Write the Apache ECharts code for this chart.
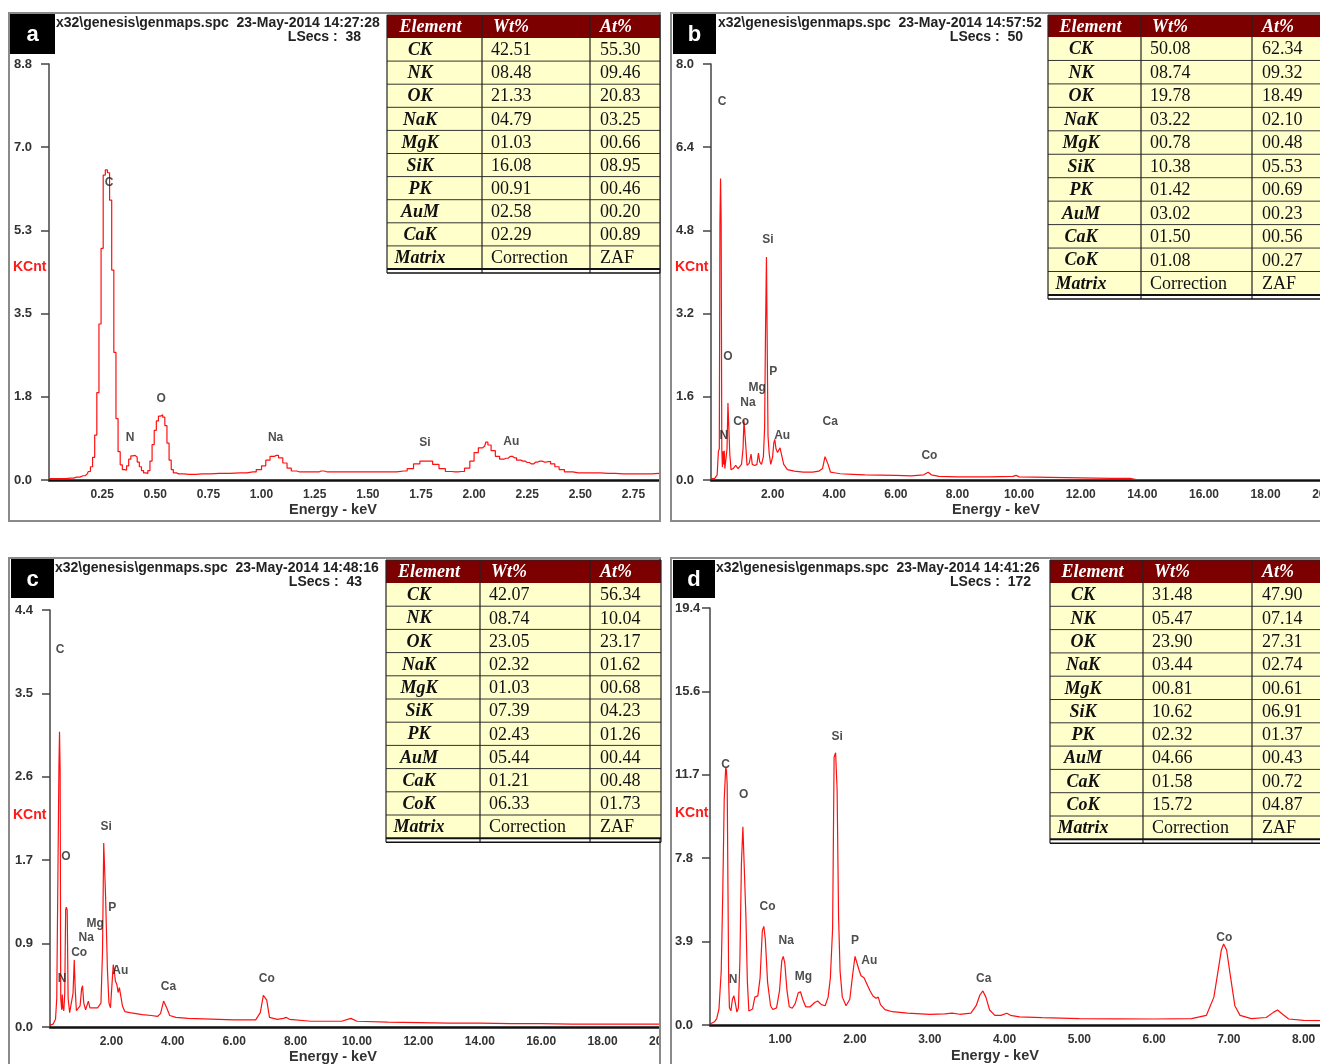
<!DOCTYPE html>
<html>
<head>
<meta charset="utf-8">
<script src="https://cdn.jsdelivr.net/npm/echarts@6/dist/echarts.min.js"></script>
<style>
  html, body { margin: 0; padding: 0; background: #fff; overflow: hidden; }
  #chart { width: 1400px; height: 1064px; }
</style>
</head>
<body>
<div id="chart"></div>
<script>
// ---------- EDS spectra: [energy keV, KCnt] ----------
const specA = [
  [0.00,0.03],[0.06,0.03],[0.10,0.04],[0.13,0.06],[0.16,0.09],[0.18,0.13],[0.19,0.18],[0.20,0.28],
  [0.21,0.48],[0.22,0.95],[0.23,1.85],[0.24,3.30],[0.25,4.90],[0.26,6.45],[0.27,6.56],[0.28,6.50],
  [0.29,5.92],[0.30,4.44],[0.31,2.70],[0.32,1.30],[0.33,0.60],[0.34,0.32],[0.35,0.22],[0.36,0.21],
  [0.37,0.30],[0.38,0.44],[0.39,0.51],[0.40,0.52],[0.41,0.48],[0.42,0.38],[0.43,0.28],[0.44,0.20],
  [0.45,0.15],[0.46,0.14],[0.47,0.20],[0.48,0.40],[0.49,0.75],[0.50,1.05],[0.51,1.25],[0.52,1.35],
  [0.53,1.38],[0.54,1.33],[0.55,1.15],[0.56,0.78],[0.57,0.42],[0.58,0.22],[0.59,0.15],[0.61,0.13],
  [0.66,0.12],[0.72,0.13],[0.80,0.14],[0.90,0.15],[0.96,0.17],[0.99,0.22],[1.01,0.30],[1.03,0.42],
  [1.05,0.50],[1.07,0.52],[1.09,0.47],[1.11,0.36],[1.13,0.25],[1.15,0.19],[1.18,0.17],[1.26,0.17],
  [1.28,0.19],[1.31,0.17],[1.40,0.17],[1.50,0.17],[1.60,0.17],[1.67,0.19],[1.70,0.24],[1.73,0.34],
  [1.76,0.40],[1.79,0.40],[1.82,0.33],[1.85,0.24],[1.88,0.18],[1.91,0.17],[1.94,0.18],[1.97,0.25],
  [1.99,0.40],[2.01,0.58],[2.03,0.68],[2.05,0.72],[2.06,0.80],[2.07,0.74],[2.09,0.62],[2.11,0.50],
  [2.13,0.44],[2.15,0.46],[2.17,0.50],[2.19,0.47],[2.21,0.42],[2.23,0.40],[2.25,0.37],[2.27,0.34],
  [2.29,0.38],[2.31,0.40],[2.33,0.38],[2.35,0.39],[2.37,0.34],[2.39,0.28],[2.41,0.22],[2.44,0.17],
  [2.49,0.15],[2.56,0.15],[2.63,0.14],[2.70,0.13],[2.80,0.13],[2.87,0.14]
];
const specB = [
  [0.00,0.02],[0.12,0.03],[0.20,0.10],[0.24,0.55],[0.27,0.60],[0.29,4.95],[0.31,5.80],[0.33,4.95],
  [0.35,0.60],[0.37,0.25],[0.39,0.55],[0.41,0.30],[0.43,0.56],[0.45,0.22],[0.48,0.20],[0.52,0.60],
  [0.55,1.48],[0.58,1.45],[0.61,0.50],[0.65,0.20],[0.72,0.22],[0.80,0.28],[0.88,0.22],[0.99,0.30],
  [1.04,0.60],[1.07,1.15],[1.10,1.12],[1.13,0.65],[1.17,0.28],[1.24,0.32],[1.30,0.50],[1.34,0.30],
  [1.42,0.28],[1.49,0.30],[1.54,0.52],[1.58,0.35],[1.64,0.30],[1.70,0.45],[1.74,1.00],[1.77,2.90],
  [1.80,4.29],[1.82,2.92],[1.85,0.85],[1.89,0.50],[1.94,0.30],[2.00,0.45],[2.04,0.72],[2.07,0.78],
  [2.11,0.60],[2.16,0.53],[2.20,0.52],[2.24,0.62],[2.30,0.60],[2.36,0.30],[2.48,0.20],[2.70,0.17],
  [3.00,0.15],[3.30,0.15],[3.50,0.17],[3.62,0.22],[3.70,0.45],[3.75,0.48],[3.80,0.30],[3.88,0.15],
  [4.00,0.14],[4.20,0.12],[4.60,0.11],[5.00,0.10],[6.00,0.09],[6.50,0.08],[6.90,0.10],[7.05,0.15],
  [7.15,0.10],[7.40,0.07],[8.00,0.06],[9.00,0.06],[9.80,0.07],[9.90,0.09],[10.00,0.06],[11.00,0.05],
  [12.00,0.04],[13.00,0.03],[13.60,0.03],[13.80,0.01],[20.48,0.01]
];
const specC = [
  [0.00,0.02],[0.10,0.03],[0.18,0.08],[0.22,0.30],[0.25,0.32],[0.27,0.30],[0.29,2.69],[0.31,3.08],
  [0.33,2.69],[0.35,0.30],[0.38,0.18],[0.40,0.34],[0.42,0.20],[0.45,0.17],[0.48,0.35],[0.51,1.22],
  [0.53,1.25],[0.56,1.22],[0.59,0.30],[0.64,0.15],[0.70,0.17],[0.75,0.35],[0.79,0.70],[0.82,0.40],
  [0.86,0.17],[0.92,0.15],[0.98,0.22],[1.03,0.40],[1.06,0.43],[1.10,0.25],[1.16,0.18],[1.25,0.27],
  [1.30,0.20],[1.38,0.20],[1.45,0.20],[1.50,0.22],[1.55,0.20],[1.66,0.25],[1.71,0.78],[1.75,1.92],
  [1.78,1.92],[1.81,1.37],[1.84,1.37],[1.87,0.60],[1.92,0.25],[1.97,0.20],[2.02,0.45],[2.06,0.65],
  [2.09,0.60],[2.13,0.48],[2.18,0.44],[2.22,0.36],[2.26,0.41],[2.31,0.40],[2.36,0.22],[2.44,0.16],
  [2.60,0.15],[3.00,0.13],[3.30,0.12],[3.50,0.11],[3.60,0.14],[3.70,0.27],[3.75,0.29],[3.80,0.20],
  [3.90,0.12],[4.10,0.10],[4.50,0.09],[5.00,0.085],[6.00,0.075],[6.70,0.075],[6.85,0.15],[6.95,0.33],
  [7.00,0.34],[7.06,0.28],[7.15,0.10],[7.40,0.08],[7.60,0.09],[7.70,0.10],[7.80,0.08],[8.50,0.06],
  [9.50,0.06],[9.80,0.09],[10.00,0.06],[11.00,0.05],[12.00,0.045],[13.00,0.04],[14.00,0.04],
  [15.00,0.035],[16.00,0.035],[17.00,0.03],[18.00,0.03],[19.00,0.03],[20.00,0.03]
];
const specD = [
  [0.06,0.05],[0.12,0.15],[0.15,0.30],[0.18,0.75],[0.21,2.50],[0.23,6.00],[0.25,10.50],[0.27,12.00],
  [0.28,11.90],[0.29,11.20],[0.30,6.50],[0.31,2.00],[0.32,0.80],[0.34,0.66],[0.36,1.20],[0.38,1.36],
  [0.40,1.00],[0.42,0.60],[0.44,0.80],[0.46,3.00],[0.48,7.50],[0.50,9.25],[0.52,9.20],[0.54,5.10],
  [0.56,2.00],[0.58,0.65],[0.60,0.58],[0.63,0.75],[0.66,1.30],[0.70,1.36],[0.73,2.20],[0.76,4.40],
  [0.78,4.60],[0.80,4.00],[0.83,2.00],[0.87,0.90],[0.90,0.72],[0.95,0.80],[0.99,1.60],[1.02,3.00],
  [1.04,3.20],[1.06,2.90],[1.09,1.60],[1.12,0.85],[1.16,0.78],[1.20,1.00],[1.24,1.50],[1.27,1.55],
  [1.30,1.20],[1.34,0.85],[1.40,0.85],[1.46,1.05],[1.50,1.12],[1.55,0.95],[1.60,0.90],[1.64,1.30],
  [1.67,2.20],[1.70,4.50],[1.72,12.50],[1.74,12.70],[1.76,11.00],[1.78,5.00],[1.80,2.50],[1.83,1.30],
  [1.88,0.90],[1.93,1.20],[1.97,2.40],[2.00,3.20],[2.02,3.26],[2.05,2.60],[2.08,2.30],[2.12,2.20],
  [2.16,1.90],[2.20,1.60],[2.24,1.35],[2.28,1.25],[2.31,1.30],[2.34,0.95],[2.40,0.72],[2.50,0.62],
  [2.70,0.55],[3.00,0.50],[3.20,0.52],[3.30,0.55],[3.40,0.50],[3.55,0.55],[3.62,0.90],[3.67,1.40],
  [3.71,1.59],[3.75,1.30],[3.80,0.70],[3.87,0.45],[3.95,0.45],[4.03,0.55],[4.08,0.45],[4.20,0.38],
  [4.50,0.34],[5.00,0.30],[5.50,0.29],[6.00,0.28],[6.50,0.30],[6.70,0.45],[6.80,1.30],[6.85,2.40],
  [6.90,3.50],[6.93,3.78],[6.97,3.50],[7.02,2.30],[7.08,0.90],[7.15,0.45],[7.30,0.30],[7.50,0.35],
  [7.60,0.60],[7.65,0.70],[7.72,0.50],[7.80,0.28],[8.00,0.22],[8.50,0.20]
];

// ---------- peak labels: [element, keV, KCnt] ----------
const peaksA = [['C',0.283,6.28],['N',0.382,0.89],['O',0.528,1.73],['Na',1.066,0.89],['Si',1.769,0.78],['Au',2.175,0.80]];
const peaksB = [['C',0.36,7.27],['O',0.55,2.37],['Si',1.85,4.62],['P',2.02,2.08],['Mg',1.50,1.77],['Na',1.20,1.48],
                ['Co',0.98,1.12],['N',0.42,0.85],['Au',2.31,0.85],['Ca',3.87,1.13],['Co',7.09,0.46]];
const peaksC = [['C',0.33,3.94],['O',0.52,1.78],['Si',1.83,2.09],['P',2.03,1.24],['Mg',1.47,1.08],['Na',1.18,0.93],
                ['Co',0.95,0.77],['N',0.39,0.50],['Au',2.29,0.59],['Ca',3.86,0.42],['Co',7.06,0.50]];
const peaksD = [['C',0.27,12.13],['O',0.51,10.73],['Si',1.76,13.43],['Co',0.83,5.50],['Na',1.08,3.92],['Mg',1.31,2.24],
                ['N',0.37,2.10],['P',2.00,3.92],['Au',2.19,2.99],['Ca',3.72,2.15],['Co',6.94,4.06]];

// ---------- tick labels ----------
const yLabelsA = ['0.0','1.8','3.5','5.3','7.0','8.8'];
const yLabelsB = ['0.0','1.6','3.2','4.8','6.4','8.0'];
const yLabelsC = ['0.0','0.9','1.7','2.6','3.5','4.4'];
const yLabelsD = ['0.0','3.9','7.8','11.7','15.6','19.4'];
const xTicksD = [1, 2, 3, 4, 5, 6, 7, 8];

// ---------- quantification tables ----------
const elementsA = ['CK','NK','OK','NaK','MgK','SiK','PK','AuM','CaK'];
const wtA = ['42.51','08.48','21.33','04.79','01.03','16.08','00.91','02.58','02.29'];
const atA = ['55.30','09.46','20.83','03.25','00.66','08.95','00.46','00.20','00.89'];
const elementsB = ['CK','NK','OK','NaK','MgK','SiK','PK','AuM','CaK','CoK'];
const wtB = ['50.08','08.74','19.78','03.22','00.78','10.38','01.42','03.02','01.50','01.08'];
const atB = ['62.34','09.32','18.49','02.10','00.48','05.53','00.69','00.23','00.56','00.27'];
const elementsC = ['CK','NK','OK','NaK','MgK','SiK','PK','AuM','CaK','CoK'];
const wtC = ['42.07','08.74','23.05','02.32','01.03','07.39','02.43','05.44','01.21','06.33'];
const atC = ['56.34','10.04','23.17','01.62','00.68','04.23','01.26','00.44','00.48','01.73'];
const elementsD = ['CK','NK','OK','NaK','MgK','SiK','PK','AuM','CaK','CoK'];
const wtD = ['31.48','05.47','23.90','03.44','00.81','10.62','02.32','04.66','01.58','15.72'];
const atD = ['47.90','07.14','27.31','02.74','00.61','06.91','01.37','00.43','00.72','04.87'];

// ---------- acquisition headers ----------
const headA = 'x32\\genesis\\genmaps.spc  23-May-2014 14:27:28', lsecsA = 'LSecs :  38';
const headB = 'x32\\genesis\\genmaps.spc  23-May-2014 14:57:52', lsecsB = 'LSecs :  50';
const headC = 'x32\\genesis\\genmaps.spc  23-May-2014 14:48:16', lsecsC = 'LSecs :  43';
const headD = 'x32\\genesis\\genmaps.spc  23-May-2014 14:41:26', lsecsD = 'LSecs :  172';

// ---------- layout ----------
const SANS = '"Liberation Sans", Arial, sans-serif';
const SERIF = '"Liberation Serif", "Times New Roman", serif';

const panels = [
  { tag:'a', spec:specA, peaks:peaksA, yMax:8.8, yLabels:yLabelsA, xMin:0, xMax:2.87, xStep:0.25, step:'middle',
    frame:[9,13,651,508], tagBox:[10,14,45,40], grid:[49,64,610,416], yLabelMargin:17, yLabelAlign:'right',
    head:headA, headPos:[56,23], lsecs:lsecsA, lsecsPos:[361,37], kcnt:[13,267], energy:[333,510],
    table:{x:387,y:15,cw:[95,108,70],hh:23,rh:23.1}, elements:elementsA, wt:wtA, at:atA },
  { tag:'b', spec:specB, peaks:peaksB, yMax:8.0, yLabels:yLabelsB, xMin:0, xMax:20.48, xStep:2, step:false,
    frame:[671,13,720,508], tagBox:[673,14,43,40], grid:[711,64,631,416], yLabelMargin:17, yLabelAlign:'right',
    head:headB, headPos:[718,23], lsecs:lsecsB, lsecsPos:[1023,37], kcnt:[675,267], energy:[996,510],
    table:{x:1048,y:15,cw:[93,111,90],hh:22,rh:23.45}, elements:elementsB, wt:wtB, at:atB },
  { tag:'c', spec:specC, peaks:peaksC, yMax:4.35, yLabels:yLabelsC, xMin:0, xMax:20, xStep:2, step:false,
    frame:[9,558,651,520], tagBox:[11,559,43,39], grid:[50,610,614,417], yLabelMargin:17, yLabelAlign:'right',
    head:headC, headPos:[55,568], lsecs:lsecsC, lsecsPos:[362,582], kcnt:[13,815], energy:[333,1057],
    table:{x:386,y:560,cw:[94,110,71],hh:23,rh:23.2}, elements:elementsC, wt:wtC, at:atC },
  { tag:'d', spec:specD, peaks:peaksD, yMax:19.45, yLabels:yLabelsD, xMin:0.06, xMax:8.5, xTicks:xTicksD, step:false,
    frame:[671,558,720,520], tagBox:[673,560,42,38], grid:[710,608,631,417], yLabelMargin:35, yLabelAlign:'left',
    head:headD, headPos:[716,568], lsecs:lsecsD, lsecsPos:[1031,582], kcnt:[675,813], energy:[995,1056],
    table:{x:1050,y:560,cw:[93,109,90],hh:23,rh:23.3}, elements:elementsD, wt:wtD, at:atD }
];

function text(x, y, s, font, fill, align, z) {
  return { type:'text', x, y, z, silent:true,
    style:{ text:s, font, fill, align, verticalAlign:'middle', textAlign:align, textVerticalAlign:'middle' } };
}
function line(x1, y1, x2, y2, stroke, w, z) {
  return { type:'line', z, silent:true, shape:{x1,y1,x2,y2}, style:{ stroke, lineWidth:w } };
}
function rect(x, y, w, h, style, z) {
  return { type:'rect', z, silent:true, shape:{x, y, width:w, height:h}, style };
}

const graphics = [];
// white gaps between the four panels
graphics.push(rect(661, 0, 10, 1064, {fill:'#fff'}, 50));
graphics.push(rect(0, 522, 1400, 36, {fill:'#fff'}, 50));
graphics.push(rect(661, 1033, 44, 20, {fill:'#fff'}, 50));

function buildTable(p) {
  const t = p.table, cw = t.cw;
  const colX = [t.x, t.x + cw[0], t.x + cw[0] + cw[1], t.x + cw[0] + cw[1] + cw[2]];
  const rows = p.elements.length + 1;
  const bottom = t.y + t.hh + rows * t.rh;
  graphics.push(rect(t.x, t.y, colX[3] - t.x, bottom - t.y, {fill:'#ffffcc'}, 80));
  graphics.push(rect(t.x, t.y, colX[3] - t.x, t.hh, {fill:'#7d0000'}, 81));
  const hy = t.y + t.hh / 2 + 1;
  graphics.push(text(colX[0] + cw[0] / 2 - 4, hy, 'Element', 'italic bold 18px ' + SERIF, '#fff', 'center', 83));
  graphics.push(text(colX[1] + 11, hy, 'Wt%', 'italic bold 18px ' + SERIF, '#fff', 'left', 83));
  graphics.push(text(colX[2] + 10, hy, 'At%', 'italic bold 18px ' + SERIF, '#fff', 'left', 83));
  const names = p.elements.concat(['Matrix']);
  const wts = p.wt.concat(['Correction']);
  const ats = p.at.concat(['ZAF']);
  for (let i = 0; i < rows; i++) {
    const y0 = t.y + t.hh + i * t.rh;
    const cy = y0 + t.rh / 2 + 1;
    graphics.push(text(colX[0] + 33, cy, names[i], 'italic bold 18px ' + SERIF, '#111', 'center', 83));
    graphics.push(text(colX[1] + 9, cy, wts[i], '18px ' + SERIF, '#111', 'left', 83));
    graphics.push(text(colX[2] + 10, cy, ats[i], '18px ' + SERIF, '#111', 'left', 83));
    if (i > 0) graphics.push(line(t.x, y0, colX[3], y0, '#333', 1, 82));
  }
  for (let c = 0; c < 4; c++) graphics.push(line(colX[c], t.y, colX[c], bottom + 4, '#222', 1.2, 82));
  graphics.push(line(t.x, t.y, colX[3], t.y, '#222', 1.2, 82));
  graphics.push(line(t.x, bottom, colX[3], bottom, '#111', 2, 82));
  graphics.push(line(t.x, bottom + 4, colX[3], bottom + 4, '#111', 1.5, 82));
}

const grids = [], xAxes = [], yAxes = [], series = [];
panels.forEach((p, i) => {
  const f = p.frame;
  graphics.push(rect(f[0], f[1], f[2], f[3], {fill:'none', stroke:'#8a8a8a', lineWidth:2}, 60));
  const tb = p.tagBox;
  graphics.push(rect(tb[0], tb[1], tb[2], tb[3], {fill:'#000'}, 90));
  graphics.push(text(tb[0] + tb[2] / 2, tb[1] + tb[3] / 2 + 1, p.tag, 'bold 22px ' + SANS, '#fff', 'center', 91));
  graphics.push(text(p.headPos[0], p.headPos[1], p.head, 'bold 14px ' + SANS, '#222', 'left', 20));
  graphics.push(text(p.lsecsPos[0], p.lsecsPos[1], p.lsecs, 'bold 14px ' + SANS, '#222', 'right', 20));
  graphics.push(text(p.kcnt[0], p.kcnt[1], 'KCnt', 'bold 14px ' + SANS, '#ff1a1a', 'left', 20));
  graphics.push(text(p.energy[0], p.energy[1], 'Energy - keV', 'bold 14.5px ' + SANS, '#333', 'center', 20));
  buildTable(p);

  const g = p.grid;
  grids.push({ left:g[0], top:g[1], width:g[2], height:g[3], containLabel:false });
  const yInt = p.yMax / 5;
  const xLabel = { margin:9, color:'#333', fontWeight:'bold', fontSize:12, fontFamily:SANS,
                   formatter: v => v.toFixed(2) };
  const xAxis = {
    type:'value', gridIndex:i, min:p.xMin, max:p.xMax,
    axisLine:{ show:true, onZero:false, lineStyle:{ color:'#111', width:2.5 } },
    axisTick:{ show:false }, splitLine:{ show:false }, axisLabel:xLabel
  };
  if (p.xTicks) {
    xLabel.customValues = p.xTicks;
  } else {
    xAxis.interval = p.xStep;
    xLabel.showMinLabel = false;
    xLabel.showMaxLabel = Math.abs(p.xMax / p.xStep - Math.round(p.xMax / p.xStep)) < 1e-9;
  }
  xAxes.push(xAxis);
  yAxes.push({
    type:'value', gridIndex:i, min:0, max:p.yMax, interval:yInt,
    axisLine:{ show:true, lineStyle:{ color:'#444', width:1.5 } },
    axisTick:{ show:true, length:8, lineStyle:{ color:'#444', width:1.5 } },
    splitLine:{ show:false },
    axisLabel:{ margin:p.yLabelMargin, align:p.yLabelAlign, color:'#333', fontWeight:'bold', fontSize:13, fontFamily:SANS,
      formatter: v => p.yLabels[Math.round(v / yInt)] }
  });
  series.push({
    type:'line', xAxisIndex:i, yAxisIndex:i, data:p.spec, symbol:'none', showSymbol:false,
    step: p.step || undefined, lineStyle:{ color:'#ff1010', width:1.2 }, silent:true, z:3
  });
  series.push({
    type:'scatter', xAxisIndex:i, yAxisIndex:i, symbolSize:1, silent:true, z:4,
    itemStyle:{ color:'rgba(0,0,0,0)' },
    data:p.peaks.map(q => ({ name:q[0], value:[q[1], q[2]] })),
    label:{ show:true, position:'inside', formatter:'{b}', color:'#222', fontWeight:'bold', fontSize:12, fontFamily:SANS }
  });
});

const chart = echarts.init(document.getElementById('chart'), null, { renderer:'canvas' });
chart.setOption({
  animation:false,
  backgroundColor:'#fff',
  grid:grids, xAxis:xAxes, yAxis:yAxes, series,
  graphic:{ elements:graphics }
});
</script>
</body>
</html>
